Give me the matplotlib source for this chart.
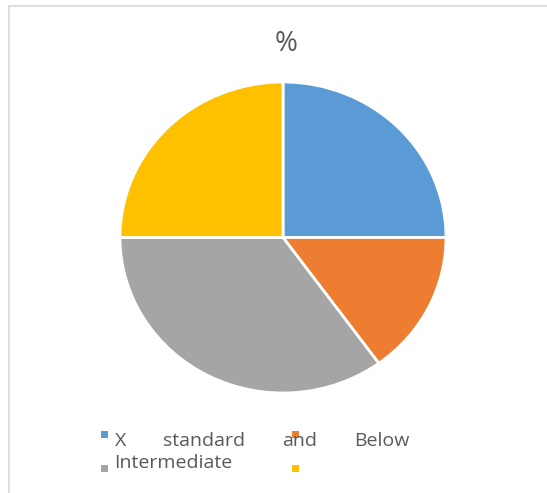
import matplotlib
matplotlib.use("Agg")
import matplotlib.pyplot as plt
from matplotlib.patches import Rectangle

plt.rcParams['font.family'] = ['Open Sans', 'DejaVu Sans']

title = "%"
labels = ["X standard and Below", "", "Intermediate", ""]
values = [25, 15, 35, 25]
colors = ["#5B9BD5", "#ED7D31", "#A5A5A5", "#FFC000"]
text_color = "#595959"

W, H = 547, 493
fig = plt.figure(figsize=(W / 100, H / 100), dpi=100)

# chart area border (runs off the right and bottom edges)
fig.add_artist(Rectangle((8.5 / W, -0.5), 2, 1 - 5.5 / H + 0.5, transform=fig.transFigure,
                         fill=False, edgecolor="#d9d9d9", linewidth=1.2))

ax = fig.add_axes([120 / W, (H - 393) / H, 326 / W, 311 / H])
ax.pie(values, colors=colors, startangle=90, counterclock=False,
       wedgeprops=dict(edgecolor="white", linewidth=2))
ax.set_aspect('auto')
ax.set_xlim(-1, 1)
ax.set_ylim(-1, 1)
ax.axis('off')

fig.text(286 / W, 1 - 44 / H, title, ha='center', va='center', fontsize=20, color=text_color)

# legend: two columns, two rows
sq = 7
marker_x = [101, 292, 101, 292]
marker_y = [431, 431, 465, 465]
for mx, my, c in zip(marker_x, marker_y, colors):
    fig.add_artist(Rectangle((mx / W, 1 - (my + sq) / H), sq / W, sq / H,
                             transform=fig.transFigure, color=c, linewidth=0))

fs = 14
renderer = fig.canvas.get_renderer()

# first label is justified across the full legend row
words = labels[0].split()
x0, x1, base = 115, 409, 446
items = [fig.text(0, 1 - base / H, w, fontsize=fs, color=text_color, va='baseline') for w in words]
widths = [t.get_window_extent(renderer).width for t in items]
gap = (x1 - x0 - sum(widths)) / (len(words) - 1)
x = x0
for t, w in zip(items, widths):
    t.set_x(x / W)
    x += w + gap

fig.text(114 / W, 1 - 468 / H, labels[2], fontsize=fs, color=text_color, va='baseline')

fig.savefig("out.png", dpi=100)
